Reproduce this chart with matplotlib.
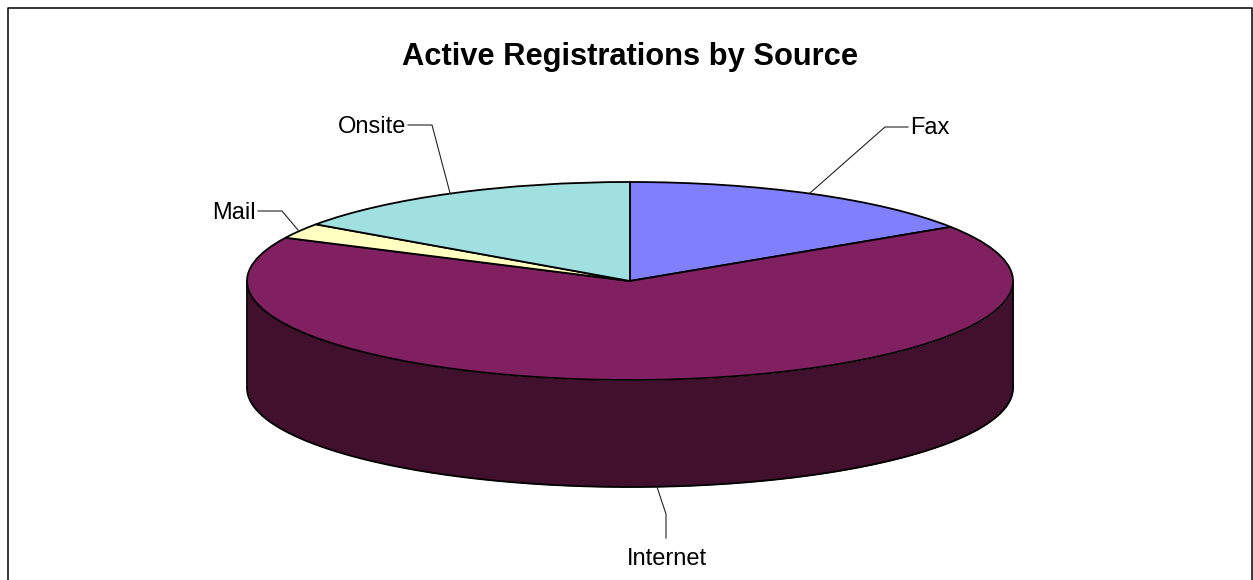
import numpy as np
import matplotlib.pyplot as plt

plt.rcParams['font.family'] = ['Liberation Sans', 'DejaVu Sans']

# pie values
sources = ["Fax", "Internet", "Mail", "Onsite"]
shares = [15.8, 66.4, 2.5, 15.3]
colors = ["#8080ff", "#802060", "#ffffc0", "#a0e0e0"]
side_color = "#40102d"

W, H = 1253, 580
fig = plt.figure(figsize=(W / 100, H / 100), dpi=100)

# ellipse: centre (630, 281), half axes 383 x 99 pixels
cx, cy, rx, ry = 630, 281, 383, 99
depth = 107 / ry

ax = fig.add_axes([0, 0, 1, 1])
ax.pie(shares, colors=colors, startangle=90, counterclock=False,
       wedgeprops={"edgecolor": "black", "linewidth": 1.3, "zorder": 3})
ax.set_aspect("auto")
ax.set_xlim(-cx / rx, (W - cx) / rx)
ax.set_ylim((cy - H) / ry, cy / ry)

# side wall of the cylinder
t = np.linspace(np.pi, 2 * np.pi, 200)
ax.fill_between(np.cos(t), np.sin(t), np.sin(t) - depth, color=side_color, lw=0, zorder=1)
ax.plot(np.cos(t), np.sin(t) - depth, color="black", lw=1.3, zorder=2)
ax.plot([-1, -1], [0, -depth], color="black", lw=1.3, zorder=2)
ax.plot([1, 1], [0, -depth], color="black", lw=1.3, zorder=2)

# overlay in pixel coordinates for frame, title and labels
over = fig.add_axes([0, 0, 1, 1], facecolor="none")
over.set_xlim(0, W)
over.set_ylim(H, 0)
over.axis("off")

over.plot([7.5, 7.5, 1251.5, 1251.5], [H, 8, 8, H], color="black", lw=1.1)

over.text(630, 57.5, "Active Registrations by Source", ha="center", va="center",
          fontsize=22.2, fontweight="bold")

label_pos = [(910, 128.5, "left"), (627, 559, "left"), (212, 213, "left"), (338, 127, "left")]
leaders = [
    ([810, 885, 908], [193, 127, 127]),
    ([657, 666, 666], [487, 514, 538]),
    ([298, 282, 258], [230, 211, 211]),
    ([450, 432, 408], [193, 125, 125]),
]
for name, (x, y, ha), (lx, ly) in zip(sources, label_pos, leaders):
    over.text(x, y, name, ha=ha, va="center", fontsize=17)
    over.plot(lx, ly, color="#222222", lw=0.8)

fig.savefig("out.png", dpi=100)
